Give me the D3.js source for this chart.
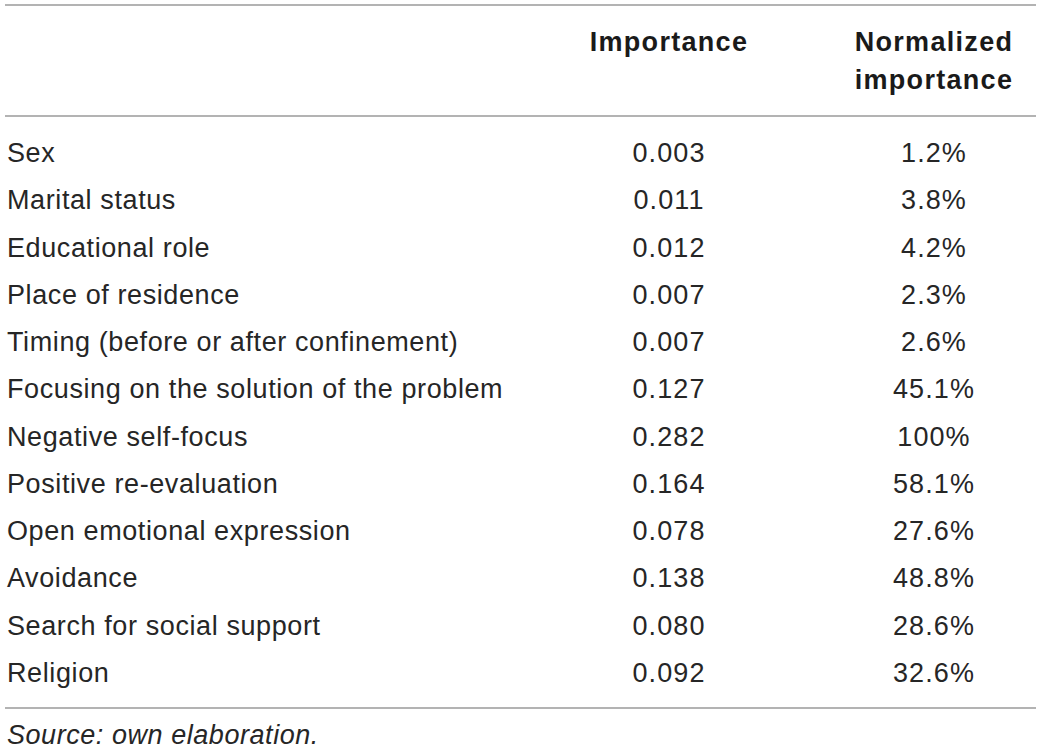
<!DOCTYPE html>
<html><head><meta charset="utf-8">
<script src="https://cdn.jsdelivr.net/npm/d3@7"></script>
<style>html,body{margin:0;padding:0;background:#fff;}</style>
</head><body>
<svg id="chart" width="1040" height="751"></svg>
<script>
const categories = ["Sex","Marital status","Educational role","Place of residence","Timing (before or after confinement)","Focusing on the solution of the problem","Negative self-focus","Positive re-evaluation","Open emotional expression","Avoidance","Search for social support","Religion"];
const importance = ["0.003","0.011","0.012","0.007","0.007","0.127","0.282","0.164","0.078","0.138","0.080","0.092"];
const normalized = ["1.2%","3.8%","4.2%","2.3%","2.6%","45.1%","100%","58.1%","27.6%","48.8%","28.6%","32.6%"];
const headers = [["Importance"],["Normalized","importance"]];
const note = "Source: own elaboration.";

const svg = d3.select("#chart");
const font = "'Liberation Sans', Arial, sans-serif";
const textColor = "#262626";
const lineColor = "#9a9a9a";
const fs = 27;

const y = d3.scalePoint().domain(categories).range([162, 682]);
const colX = [7, 669, 934];

// rules
[5, 116, 708].forEach(yy => {
  svg.append("line").attr("x1", 5).attr("x2", 1036).attr("y1", yy).attr("y2", yy)
    .attr("stroke", lineColor).attr("stroke-width", 1.6);
});

// headers
const hdrBase = [[51],[51, 89]];
headers.forEach((lines, i) => {
  lines.forEach((t, j) => {
    svg.append("text").attr("x", colX[i+1]).attr("y", hdrBase[i][j])
      .attr("text-anchor","middle").attr("font-family", font).attr("font-weight","bold")
      .attr("font-size", fs).attr("letter-spacing", 1.3).attr("fill", "#1a1a1a").text(t);
  });
});

const rows = svg.append("g").selectAll("g").data(categories).join("g")
  .attr("transform", d => `translate(0,${y(d)})`);
rows.append("text").attr("x", colX[0]).attr("font-family", font).attr("font-size", fs)
  .attr("letter-spacing", 0.6).attr("fill", textColor).text(d => d);
rows.append("text").attr("x", colX[1]).attr("text-anchor","middle").attr("font-family", font).attr("font-size", fs)
  .attr("letter-spacing", 1.1).attr("fill", textColor).text((d,i) => importance[i]);
rows.append("text").attr("x", colX[2]).attr("text-anchor","middle").attr("font-family", font).attr("font-size", fs)
  .attr("letter-spacing", 1.1).attr("fill", textColor).text((d,i) => normalized[i]);

svg.append("text").attr("x", 7).attr("y", 744).attr("font-family", font).attr("font-style","italic")
  .attr("font-size", fs).attr("letter-spacing", 0.55).attr("fill", textColor).text(note);
</script>
</body></html>
